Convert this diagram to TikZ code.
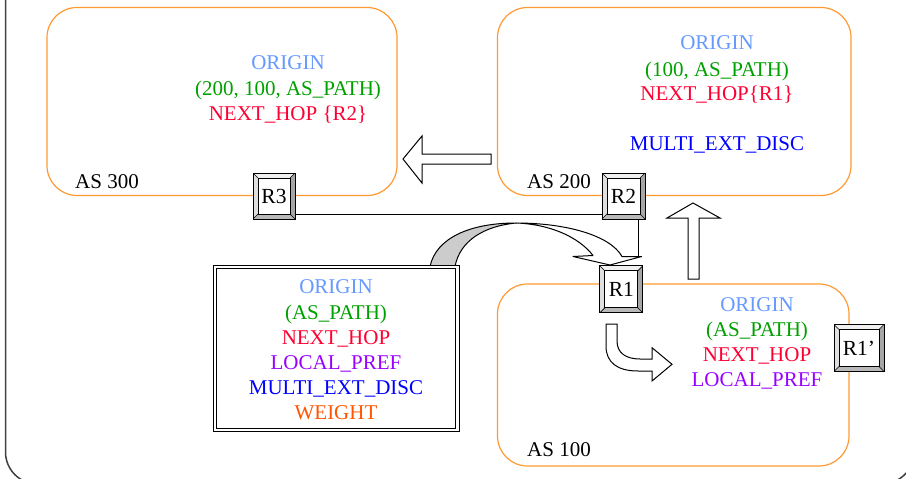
\documentclass[tikz,border=0pt]{standalone}
\usepackage{fontspec}
\setmainfont{Liberation Serif}
\usetikzlibrary{calc}
\definecolor{asorange}{HTML}{FF9933}
\definecolor{corigin}{HTML}{6699FF}
\definecolor{cpath}{HTML}{00A000}
\definecolor{chop}{HTML}{FF0033}
\definecolor{cpref}{HTML}{9900FF}
\definecolor{cmed}{HTML}{0000FF}
\definecolor{cweight}{HTML}{FF5500}
\tikzset{
  asbox/.style={draw=asorange, line width=1.2pt, rounded corners=30pt},
  lbl/.style={font=\fontsize{21}{25}\selectfont, inner sep=0pt, anchor=base},
  aslbl/.style={lbl, anchor=base west, text=black},
  router/.style={draw, line width=1pt, inner sep=0pt, fill=white,
    font=\fontsize{21.5}{24}\selectfont,
    path picture={
      \coordinate (pNW) at (path picture bounding box.north west);
      \coordinate (pNE) at (path picture bounding box.north east);
      \coordinate (pSW) at (path picture bounding box.south west);
      \coordinate (pSE) at (path picture bounding box.south east);
      \coordinate (iNW) at ([xshift=5pt,yshift=-5pt]pNW);
      \coordinate (iNE) at ([xshift=-5pt,yshift=-5pt]pNE);
      \coordinate (iSW) at ([xshift=5pt,yshift=5pt]pSW);
      \coordinate (iSE) at ([xshift=-5pt,yshift=5pt]pSE);
      \fill[gray!12] (pNW) -- (pNE) -- (iNE) -- (iNW) -- cycle;
      \fill[gray!25] (pNW) -- (pSW) -- (iSW) -- (iNW) -- cycle;
      \fill[gray!55] (pSW) -- (pSE) -- (iSE) -- (iSW) -- cycle;
      \fill[gray!70] (pNE) -- (pSE) -- (iSE) -- (iNE) -- cycle;
      \draw[line width=0.8pt, fill=white] (iNW) rectangle (iSE);
      \draw[line width=0.6pt] (pNW) -- (iNW) (pNE) -- (iNE) (pSW) -- (iSW) (pSE) -- (iSE);
    }},
  blockarrow/.style={draw, fill=white, line width=1pt, line join=miter},
  frameline/.style={draw=black!75, line width=1.5pt}
}
\begin{document}
\begin{tikzpicture}[x=1pt,y=-1pt]
\useasboundingbox (0,0) rectangle (906,479);
\clip (0,0) rectangle (906,479);

% outer frame
\draw[frameline, rounded corners=32pt] (5.5,-40) -- (5.5,484) -- (914,484) -- (914,-40);

% AS boxes
\draw[asbox] (47,7.5) rectangle (397,195.5);
\draw[asbox] (497.5,7.5) rectangle (851,195.5);
\draw[asbox] (497.5,284) rectangle (849,466);

% AS 300 texts
\node[lbl, text=corigin] (o300) at (288,69) {ORIGIN};
\node[lbl, text=cpath] (p300) at (288,95) {(200, 100, AS\_PATH)};
\node[lbl, text=chop] (h300) at (288,120) {NEXT\_HOP \{R2\}};
\node[aslbl] (l300) at (75,188) {AS 300};

% AS 200 texts
\node[lbl, text=corigin] (o200) at (717,49) {ORIGIN};
\node[lbl, text=cpath] (p200) at (717,76) {(100, AS\_PATH)};
\node[lbl, text=chop] (h200) at (717,100) {NEXT\_HOP\{R1\}};
\node[lbl, text=cmed] (m200) at (717,150) {MULTI\_EXT\_DISC};
\node[aslbl] (l200) at (527,188) {AS 200};

% AS 100 texts
\node[lbl, text=corigin] (o100) at (757,311) {ORIGIN};
\node[lbl, text=cpath] (p100) at (757,336) {(AS\_PATH)};
\node[lbl, text=chop] (h100) at (757,361) {NEXT\_HOP};
\node[lbl, text=cpref] (r100) at (757,386) {LOCAL\_PREF};
\node[aslbl] (l100) at (527,456) {AS 100};

% routers
\node[router, minimum width=42pt, minimum height=46pt] (R3) at (274,196) {R3};
\node[router, minimum width=43pt, minimum height=46pt] (R2) at (623.5,196) {R2};
\node[router, minimum width=43pt, minimum height=47pt] (R1) at (621.3,289.3) {R1};
\node[router, minimum width=50pt, minimum height=47pt] (R1p) at (859,348) {R1’};

% links
\draw[line width=1pt] ([yshift=4.7pt]R3.south east) -- ([yshift=4.7pt]R2.south west);
\coordinate (hr) at (641.7,256.5);
\draw[line width=1pt] ([xshift=15.2pt]R2.south) -- ([xshift=15.2pt]R2.south |- hr);

% big curved arrow
\draw[line width=1pt, fill=gray!40, line join=round]
  (430,266.5) .. controls (436,238) and (470,223) .. (516,223)
  .. controls (485,226) and (460,240) .. (455,266.5) -- cycle;
\draw[blockarrow, line join=round]
  (516,223) .. controls (565,223) and (610,235) .. (622,256.5)
  -- (hr) -- (610,265) -- (573,256.5) -- (593,255.5)
  .. controls (578,236) and (548,224) .. (516,223) -- cycle;

% left block arrow
\draw[blockarrow] (403,159) -- (422,136) -- (422,154) -- (491,154) -- (491,164) -- (422,164) -- (422,183) -- cycle;
% up block arrow
\draw[blockarrow] (693,203) -- (720,218) -- (699,218) -- (699,279) -- (688,279) -- (688,218) -- (667,218) -- cycle;
% bent arrow below R1
\draw[blockarrow] (606,324) -- (606,346) .. controls (606,363) and (618,371) .. (638,371)
  -- (652,371) -- (652,381) -- (672,364.3) -- (652,347.7) -- (652,359) -- (640,359)
  .. controls (626,359) and (617,353) .. (617,341) -- (617,324) -- cycle;

% attribute box
\node[draw, double, double distance=2.2pt, line width=1pt, fill=white,
      minimum width=242.5pt, minimum height=163pt, inner sep=0pt] (attr) at (336.2,348.7) {};
\node[lbl, text=corigin] (oa) at (336,293) {ORIGIN};
\node[lbl, text=cpath] (pa) at (336,319) {(AS\_PATH)};
\node[lbl, text=chop] (ha) at (336,344) {NEXT\_HOP};
\node[lbl, text=cpref] (ra) at (336,369) {LOCAL\_PREF};
\node[lbl, text=cmed] (ma) at (336,394) {MULTI\_EXT\_DISC};
\node[lbl, text=cweight] (wa) at (336,419) {WEIGHT};
\end{tikzpicture}
\end{document}
